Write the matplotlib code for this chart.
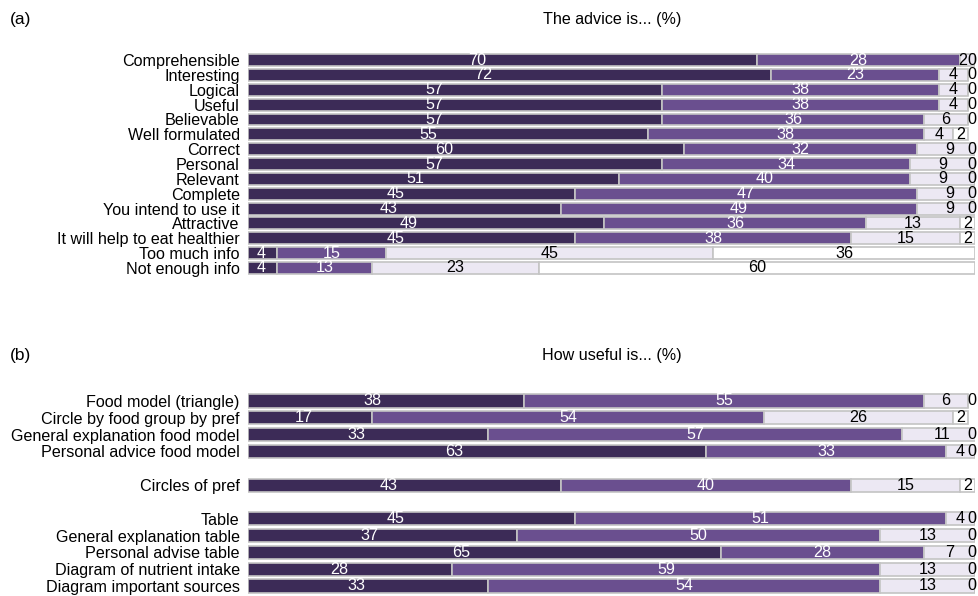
import numpy as np
import matplotlib
matplotlib.use("Agg")
import matplotlib.pyplot as plt

plt.rcParams['font.family'] = ['Liberation Sans', 'DejaVu Sans']

# panel (a): The advice is... (%)
labels_a = ["Comprehensible", "Interesting", "Logical", "Useful", "Believable",
            "Well formulated", "Correct", "Personal", "Relevant", "Complete",
            "You intend to use it", "Attractive", "It will help to eat healthier",
            "Too much info", "Not enough info"]
a_s1 = [70, 72, 57, 57, 57, 55, 60, 57, 51, 45, 43, 49, 45, 4, 4]
a_s2 = [28, 23, 38, 38, 36, 38, 32, 34, 40, 47, 49, 36, 38, 15, 13]
a_s3 = [2, 4, 4, 4, 6, 4, 9, 9, 9, 9, 9, 13, 15, 45, 23]
a_s4 = [0, 0, 0, 0, 0, 2, 0, 0, 0, 0, 0, 2, 2, 36, 60]

# panel (b): How useful is... (%)
labels_b = ["Food model (triangle)", "Circle by food group by pref",
            "General explanation food model", "Personal advice food model",
            "Circles of pref", "Table", "General explanation table",
            "Personal advise table", "Diagram of nutrient intake",
            "Diagram important sources"]
rows_b = [0, 1, 2, 3, 5, 7, 8, 9, 10, 11]
b_s1 = [38, 17, 33, 63, 43, 45, 37, 65, 28, 33]
b_s2 = [55, 54, 57, 33, 40, 51, 50, 28, 59, 54]
b_s3 = [6, 26, 11, 4, 15, 4, 13, 7, 13, 13]
b_s4 = [0, 2, 0, 0, 2, 0, 0, 0, 0, 0]

colors = ['#3c2b57', '#6a4f8f', '#ece8f3', '#ffffff']
txt_colors = ['white', 'white', 'black', 'black']
FS = 11.6


def stacked(ax, rows, labels, series, height):
    left = np.zeros(len(rows))
    for k, vals in enumerate(series):
        vals = np.array(vals, dtype=float)
        ax.barh(rows, vals, left=left, height=height, color=colors[k],
                edgecolor='#c4c4c4', linewidth=1.2)
        for r, l, v in zip(rows, left, vals):
            if v == 0:
                x = 99.6
            elif k == 0:
                x = l + v * 0.45
            elif k == 2 and v < 3 and l + v > 99:
                # tiny segment squeezed next to the "0" at the end
                x = l + v / 2 - 0.7
            else:
                x = l + v / 2
            ax.text(x, r, "%d" % v, ha='center', va='center', fontsize=FS,
                    color=txt_colors[k])
        left = left + vals
    ax.set_xlim(0, 100)
    ax.set_ylim(max(rows) + 0.5, -0.5)
    ax.set_yticks(rows)
    ax.set_yticklabels(labels, fontsize=FS)
    ax.tick_params(axis='y', length=0, pad=6)
    ax.set_xticks([])
    for s in ax.spines.values():
        s.set_visible(False)


fig = plt.figure(figsize=(9.79, 5.96), dpi=100)
ax1 = fig.add_axes([0.2533, 0.5379, 0.7426, 0.3738])
ax2 = fig.add_axes([0.2533, 0.0027, 0.7426, 0.3386])

stacked(ax1, np.arange(len(labels_a)), labels_a, [a_s1, a_s2, a_s3, a_s4], 0.8)
stacked(ax2, np.array(rows_b), labels_b, [b_s1, b_s2, b_s3, b_s4], 0.78)

fig.text(0.625, 0.968, "The advice is... (%)", ha='center', va='center', fontsize=FS)
fig.text(0.625, 0.404, "How useful is... (%)", ha='center', va='center', fontsize=FS)
fig.text(0.010, 0.968, "(a)", ha='left', va='center', fontsize=12.5)
fig.text(0.010, 0.404, "(b)", ha='left', va='center', fontsize=12.5)

fig.savefig("out.png", dpi=100)
